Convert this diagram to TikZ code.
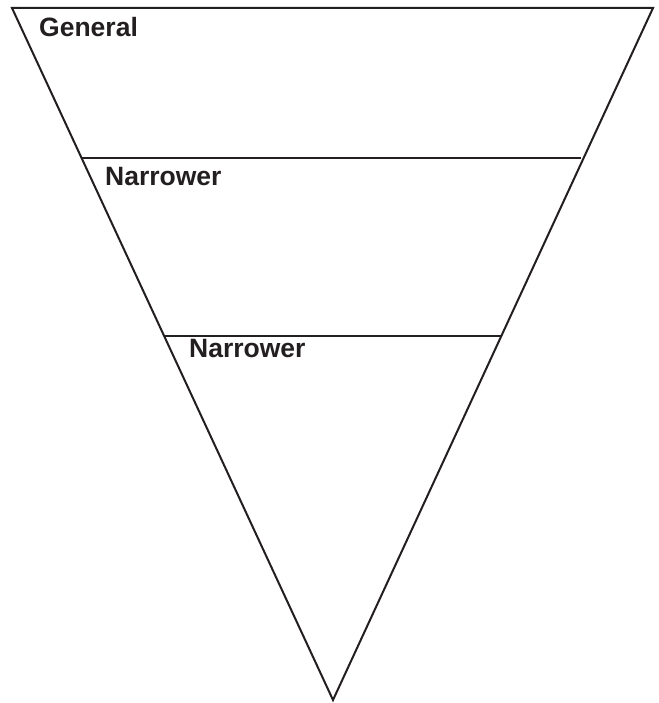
\documentclass[tikz,border=0pt]{standalone}
\usepackage{fontspec}
\setmainfont{Liberation Sans}
\definecolor{ink}{HTML}{231F20}
\begin{document}
\begin{tikzpicture}[x=1pt,y=-1pt,
  edge/.style={draw=ink,line width=2pt},
  lbl/.style={anchor=base west,inner sep=0pt,text=ink,font=\fontsize{26.5}{31}\selectfont\bfseries}]
\useasboundingbox (0,0) rectangle (658,703);
\coordinate (tl) at (12,8);
\coordinate (tr) at (653,8);
\coordinate (tip) at (333,700);
\coordinate (a1) at (82,158.5);
\coordinate (b1) at (581,158.5);
\coordinate (a2) at (165,336);
\coordinate (b2) at (501,336);
\draw[edge,line join=miter] (tl) -- (tr) -- (tip) -- cycle;
\draw[edge] (a1) -- (b1);
\draw[edge] (a2) -- (b2);
\node[lbl] (g) at (39,36.5) {General};
\node[lbl] (n1) at (105,186) {Narrower};
\node[lbl] (n2) at (189,357) {Narrower};
\end{tikzpicture}
\end{document}
